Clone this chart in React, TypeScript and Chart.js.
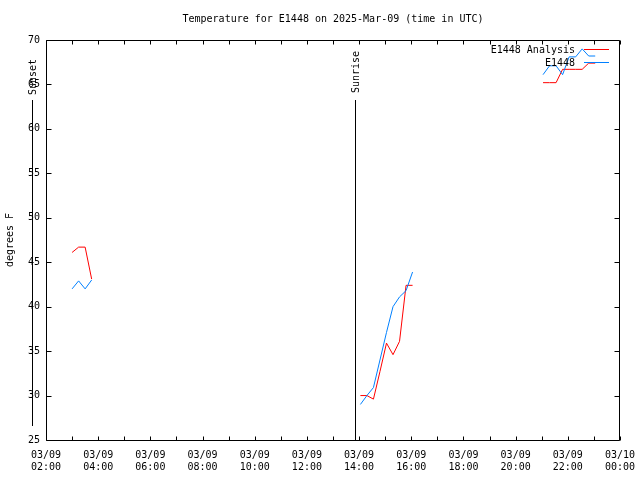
import React, { useEffect, useRef } from 'react';
import { Chart, registerables } from 'chart.js';

Chart.register(...registerables);

const TITLE = 'Temperature for E1448 on 2025-Mar-09 (time in UTC)';
const Y_TITLE = 'degrees F';

// Times are hours:minutes on 03/09 (UTC); null values break the line.
const analysisTimes = ['03:00', '03:15', '03:30', '03:45', '09:00', '14:03', '14:18', '14:33', '14:48', '15:03', '15:18', '15:33', '15:48', '16:03', '18:00', '21:03', '21:18', '21:33', '21:48', '22:03', '22:18', '22:33', '22:48', '23:03'];
const analysisValues = [46.1, 46.7, 46.7, 43.1, null, 30.0, 30.0, 29.6, 32.7, 35.9, 34.6, 36.1, 42.4, 42.4, null, 65.2, 65.2, 65.2, 66.7, 66.7, 66.7, 66.7, 67.4, 67.4];

const obsTimes = ['03:00', '03:15', '03:30', '03:45', '09:00', '14:03', '14:18', '14:33', '14:48', '15:03', '15:18', '15:33', '15:48', '16:03', '18:00', '21:03', '21:18', '21:33', '21:48', '22:03', '22:18', '22:33', '22:48', '23:03'];
const obsValues = [42.0, 42.9, 42.0, 43.0, null, 29.0, 30.0, 30.9, 34.0, 37.1, 40.0, 41.1, 41.8, 43.9, null, 66.1, 67.1, 67.1, 66.1, 68.1, 68.1, 69.0, 68.2, 68.2];

const seriesNames = ['E1448 Analysis', 'E1448'];
const seriesColors = ['#ff0000', '#0080ff'];

const xTickHours = [2, 4, 6, 8, 10, 12, 14, 16, 18, 20, 22, 24];
const xTickDates = ['03/09', '03/09', '03/09', '03/09', '03/09', '03/09', '03/09', '03/09', '03/09', '03/09', '03/09', '03/10'];
const xTickTimes = ['02:00', '04:00', '06:00', '08:00', '10:00', '12:00', '14:00', '16:00', '18:00', '20:00', '22:00', '00:00'];

const eventNames = ['Sunset', 'Sunrise'];
const eventTimes = ['01:28', '13:50'];

const FAMILY = '"DejaVu Sans Mono", "Liberation Mono", monospace';
const FONT = `10px ${FAMILY}`;

const toHours = (t: string) => {
  const [h, m] = t.split(':').map(Number);
  return h + m / 60;
};

const toPoints = (times: string[], values: (number | null)[]) =>
  times.map((t, i) => ({ x: toHours(t), y: values[i] }));

const gnuplotPlugin = {
  id: 'gnuplotFrame',
  afterDraw(chart: any) {
    const { ctx, chartArea: a, scales } = chart;
    const xs = scales.x;
    const ys = scales.y;
    const p = (v: number) => Math.round(v) + 0.5;
    ctx.save();
    ctx.strokeStyle = '#000';
    ctx.lineWidth = 1;
    const L = p(a.left);
    const R = p(a.right) - 1;
    const T = p(a.top);
    const B = p(a.bottom);
    ctx.beginPath();
    ctx.rect(L, T, R - L, B - T);
    xs.ticks.forEach((t: any) => {
      const x = p(xs.getPixelForValue(t.value));
      const len = 4;
      ctx.moveTo(x, B);
      ctx.lineTo(x, B - len);
      ctx.moveTo(x, T);
      ctx.lineTo(x, T + len);
    });
    ys.ticks.forEach((t: any) => {
      const y = p(ys.getPixelForValue(t.value));
      const len = 5;
      ctx.moveTo(L, y);
      ctx.lineTo(L + len, y);
      ctx.moveTo(R, y);
      ctx.lineTo(R - len, y);
    });
    ctx.stroke();

    // title centred over the plot area
    ctx.font = FONT;
    ctx.fillStyle = '#000';
    ctx.textAlign = 'center';
    ctx.textBaseline = 'middle';
    ctx.fillText(TITLE, (a.left + a.right) / 2, 19);

    // sunrise / sunset markers
    const markTop = ys.getPixelForValue(63.25);
    eventTimes.forEach((tm, i) => {
      const x = p(xs.getPixelForValue(toHours(tm)));
      const bottom = i === 0 ? ys.getPixelForValue(26.6) : a.bottom;
      ctx.beginPath();
      ctx.moveTo(x, Math.round(markTop));
      ctx.lineTo(x, Math.round(bottom));
      ctx.stroke();
      ctx.save();
      ctx.translate(x + 0.5, markTop - (i === 0 ? 5 : 7));
      ctx.rotate(-Math.PI / 2);
      ctx.textAlign = 'left';
      ctx.textBaseline = 'middle';
      ctx.fillText(eventNames[i], 0, 0);
      ctx.restore();
    });

    // legend
    seriesNames.forEach((name, i) => {
      const y = a.top + 10 + i * 13;
      ctx.textAlign = 'right';
      ctx.textBaseline = 'middle';
      ctx.fillStyle = '#000';
      ctx.fillText(name, a.right - 45, y);
      ctx.strokeStyle = seriesColors[i];
      ctx.beginPath();
      ctx.moveTo(a.right - 36, Math.round(y) - 0.5);
      ctx.lineTo(a.right - 11, Math.round(y) - 0.5);
      ctx.stroke();
    });
    ctx.restore();
  },
};

export default function App() {
  const ref = useRef<HTMLCanvasElement | null>(null);
  useEffect(() => {
    if (!ref.current) return;
    const chart = new Chart(ref.current, {
      type: 'line',
      data: {
        datasets: [
          {
            label: seriesNames[0],
            data: toPoints(analysisTimes, analysisValues),
            borderColor: seriesColors[0],
            backgroundColor: seriesColors[0],
            borderWidth: 1,
            pointRadius: 0,
            tension: 0,
            spanGaps: false,
            order: 1,
          },
          {
            label: seriesNames[1],
            data: toPoints(obsTimes, obsValues),
            borderColor: seriesColors[1],
            backgroundColor: seriesColors[1],
            borderWidth: 1,
            pointRadius: 0,
            tension: 0,
            spanGaps: false,
            order: 0,
          },
        ],
      },
      options: {
        responsive: false,
        animation: false,
        layout: { padding: { right: 20, left: 0, bottom: 0, top: 40 } },
        plugins: {
          legend: { display: false },
          tooltip: { enabled: false },
          title: { display: false },
        },
        scales: {
          x: {
            type: 'linear',
            min: 2,
            max: 24,
            grid: { display: false, drawTicks: false },
            border: { display: false },
            afterFit: (s: any) => {
              s.height = 40;
              s.paddingLeft = 0;
              s.paddingRight = 0;
            },
            ticks: {
              stepSize: 1,
              autoSkip: false,
              maxRotation: 0,
              padding: 9,
              color: '#000',
              font: { family: FAMILY, size: 10, lineHeight: 1.2 },
              callback: (v: any) => {
                const i = xTickHours.indexOf(Number(v));
                return i >= 0 ? [xTickDates[i], xTickTimes[i]] : '';
              },
            },
          },
          y: {
            type: 'linear',
            min: 25,
            max: 70,
            grid: { display: false, drawTicks: false },
            border: { display: false },
            afterFit: (s: any) => {
              s.width = 46;
              s.paddingTop = 0;
              s.paddingBottom = 0;
            },
            title: {
              display: true,
              text: Y_TITLE,
              color: '#000',
              font: { family: FAMILY, size: 10, lineHeight: 1.2 },
              padding: { top: 4, bottom: 0 },
            },
            ticks: {
              stepSize: 5,
              padding: 6,
              color: '#000',
              font: { family: FAMILY, size: 10, lineHeight: 1.2 },
            },
          },
        },
      },
      plugins: [gnuplotPlugin],
    });
    return () => chart.destroy();
  }, []);
  return (
    <div style={{ position: 'absolute', left: 0, top: 0, width: 640, height: 480, background: '#fff' }}>
      <canvas ref={ref} width={640} height={480} />
    </div>
  );
}
